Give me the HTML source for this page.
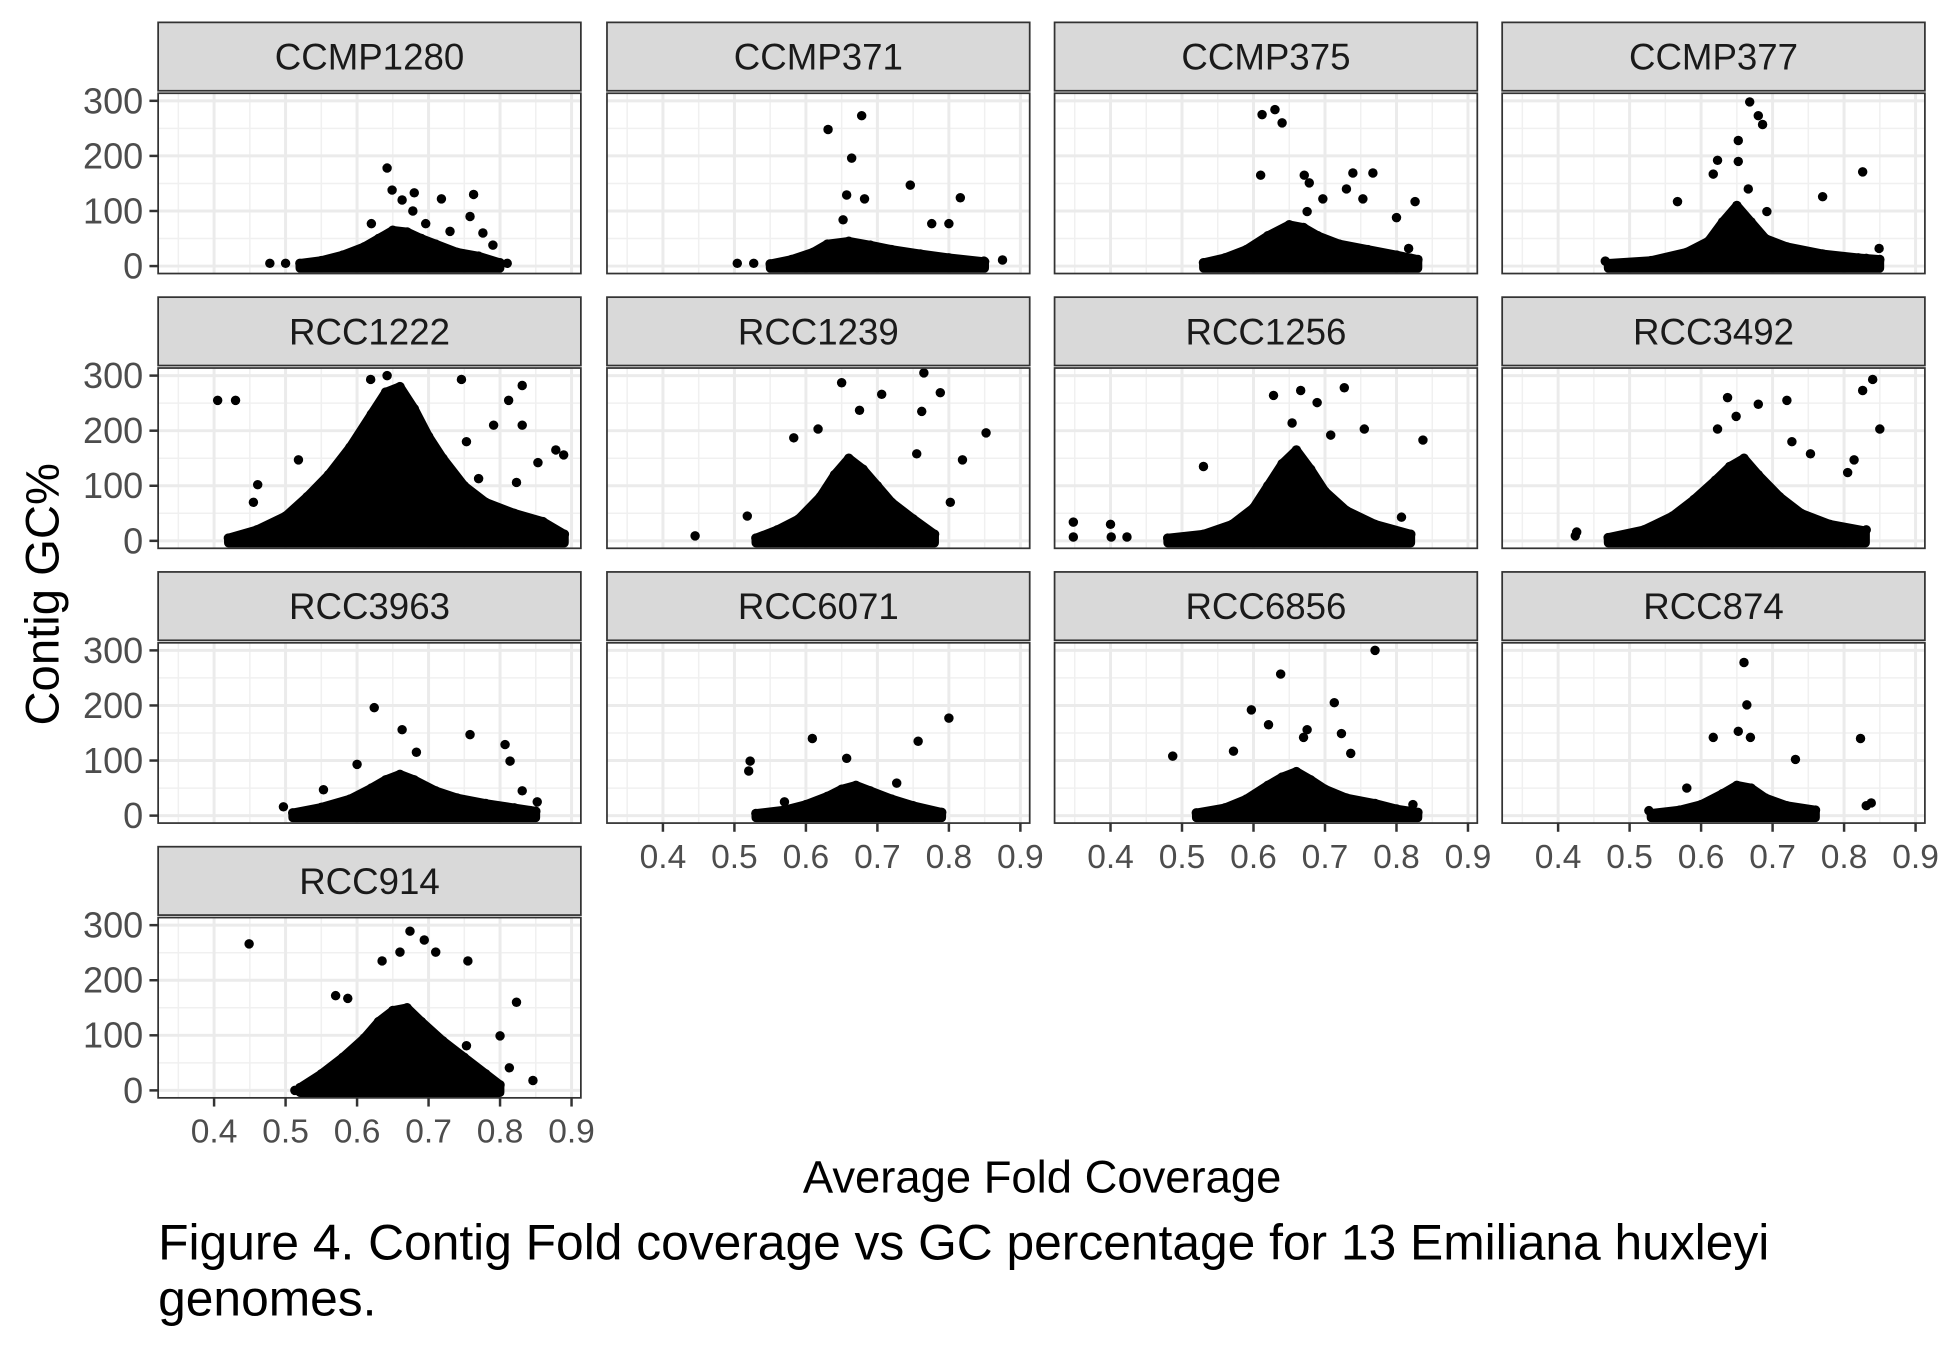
<!DOCTYPE html>
<html><head><meta charset="utf-8"><style>
html,body{margin:0;padding:0;background:#fff;}
svg{display:block;font-family:"Liberation Sans",Arial,sans-serif;}
</style></head><body>
<svg id="chart" width="1950" height="1349" viewBox="0 0 1568 1085" xmlns="http://www.w3.org/2000/svg">
<text x="47" y="478" transform="rotate(-90 47 478)" text-anchor="middle" font-size="38" fill="#000">Contig GC%</text>
<text x="838" y="959" text-anchor="middle" font-size="36.5" fill="#000">Average Fold Coverage</text>
<text x="127" y="1013" font-size="40" fill="#000">Figure 4. Contig Fold coverage vs GC percentage for 13 Emiliana huxleyi</text>
<text x="127" y="1058" font-size="40" fill="#000">genomes.</text>
</svg>
<script>
const panelNames = ["CCMP1280","CCMP371","CCMP375","CCMP377","RCC1222","RCC1239","RCC1256","RCC3492","RCC3963","RCC6071","RCC6856","RCC874","RCC914"];
const xTicks = [0.4,0.5,0.6,0.7,0.8,0.9];
const xTickLabels = ["0.4","0.5","0.6","0.7","0.8","0.9"];
const yTicks = [0,100,200,300];
const yTickLabels = ["0","100","200","300"];
const envelopes = [
 [[0.52,5],[0.55,10],[0.58,20],[0.61,35],[0.63,50],[0.65,65],[0.67,62],[0.69,50],[0.71,40],[0.74,25],[0.77,18],[0.80,6]],
 [[0.55,4],[0.58,12],[0.61,25],[0.63,40],[0.66,45],[0.69,38],[0.72,30],[0.76,22],[0.80,15],[0.85,8]],
 [[0.53,6],[0.56,15],[0.59,30],[0.62,55],[0.65,75],[0.67,70],[0.69,55],[0.72,40],[0.76,30],[0.80,20],[0.83,12]],
 [[0.47,5],[0.53,10],[0.58,25],[0.61,45],[0.63,80],[0.65,110],[0.67,80],[0.69,50],[0.72,35],[0.77,22],[0.82,15],[0.85,12]],
 [[0.42,5],[0.46,20],[0.50,45],[0.53,80],[0.56,120],[0.59,170],[0.62,230],[0.64,270],[0.66,280],[0.68,240],[0.70,190],[0.72,150],[0.75,100],[0.78,70],[0.82,50],[0.86,35],[0.89,12]],
 [[0.53,5],[0.56,20],[0.59,40],[0.62,80],[0.64,120],[0.66,150],[0.68,130],[0.70,100],[0.72,70],[0.75,40],[0.78,12]],
 [[0.48,5],[0.53,12],[0.57,30],[0.60,60],[0.62,100],[0.64,140],[0.66,165],[0.68,130],[0.70,90],[0.73,55],[0.77,30],[0.82,12]],
 [[0.47,6],[0.52,20],[0.56,45],[0.59,75],[0.62,110],[0.64,135],[0.66,150],[0.68,120],[0.71,80],[0.74,50],[0.78,30],[0.83,18]],
 [[0.51,5],[0.55,15],[0.59,30],[0.62,50],[0.64,65],[0.66,75],[0.68,65],[0.71,45],[0.74,32],[0.78,22],[0.82,14],[0.85,8]],
 [[0.53,4],[0.57,10],[0.60,20],[0.63,35],[0.65,48],[0.67,55],[0.69,45],[0.72,30],[0.75,18],[0.79,6]],
 [[0.52,5],[0.56,14],[0.59,30],[0.62,55],[0.64,70],[0.66,80],[0.68,65],[0.70,48],[0.73,32],[0.77,22],[0.80,12],[0.83,6]],
 [[0.53,4],[0.57,10],[0.60,20],[0.63,40],[0.65,55],[0.67,50],[0.69,32],[0.72,18],[0.76,10]],
 [[0.52,5],[0.55,30],[0.58,60],[0.61,95],[0.63,125],[0.65,145],[0.67,150],[0.69,125],[0.72,90],[0.75,60],[0.78,30],[0.80,10]]
];
const outliers = [
 [[0.478,5],[0.50,5],[0.642,178],[0.663,120],[0.649,138],[0.68,133],[0.718,122],[0.763,130],[0.758,90],[0.696,77],[0.62,77],[0.79,38],[0.81,5],[0.776,60],[0.73,63],[0.678,100]],
 [[0.504,5],[0.527,5],[0.678,273],[0.631,248],[0.664,196],[0.657,129],[0.682,122],[0.746,147],[0.816,124],[0.776,77],[0.80,77],[0.652,84],[0.875,11],[0.849,9]],
 [[0.612,275],[0.63,284],[0.64,260],[0.61,165],[0.671,165],[0.678,151],[0.739,169],[0.767,169],[0.826,117],[0.73,140],[0.697,122],[0.80,88],[0.675,99],[0.753,122],[0.817,32],[0.82,14]],
 [[0.668,298],[0.68,273],[0.686,257],[0.652,228],[0.623,192],[0.652,190],[0.666,140],[0.617,167],[0.77,126],[0.826,171],[0.567,117],[0.77,20],[0.849,32],[0.831,14],[0.466,9],[0.692,99]],
 [[0.405,255],[0.43,255],[0.619,293],[0.642,300],[0.746,293],[0.831,282],[0.812,255],[0.791,210],[0.831,210],[0.878,165],[0.889,156],[0.853,142],[0.461,102],[0.455,70],[0.887,11],[0.518,147],[0.753,180],[0.823,106],[0.77,113]],
 [[0.445,9],[0.765,305],[0.788,269],[0.65,287],[0.706,266],[0.762,235],[0.852,196],[0.819,147],[0.802,70],[0.675,237],[0.755,158],[0.518,45],[0.617,203],[0.583,187]],
 [[0.348,34],[0.348,7],[0.40,30],[0.401,7],[0.423,7],[0.628,264],[0.666,273],[0.727,278],[0.689,251],[0.755,203],[0.837,183],[0.708,192],[0.654,214],[0.53,135],[0.807,43]],
 [[0.424,9],[0.426,16],[0.84,293],[0.826,273],[0.85,203],[0.637,260],[0.68,248],[0.72,255],[0.649,226],[0.623,203],[0.727,180],[0.814,147],[0.805,124],[0.831,20],[0.753,158]],
 [[0.497,16],[0.624,196],[0.663,156],[0.758,147],[0.807,129],[0.814,99],[0.831,45],[0.852,25],[0.842,9],[0.683,115],[0.60,93],[0.553,47]],
 [[0.522,99],[0.52,81],[0.609,140],[0.80,177],[0.757,135],[0.657,104],[0.727,59],[0.57,25]],
 [[0.487,108],[0.77,300],[0.638,257],[0.597,192],[0.713,205],[0.621,165],[0.675,156],[0.67,142],[0.723,149],[0.572,117],[0.736,113],[0.823,20]],
 [[0.66,278],[0.664,201],[0.652,153],[0.617,142],[0.669,142],[0.732,102],[0.823,140],[0.838,23],[0.831,18],[0.58,50],[0.527,9]],
 [[0.449,266],[0.674,289],[0.694,273],[0.66,251],[0.71,251],[0.755,235],[0.635,235],[0.57,172],[0.587,167],[0.823,160],[0.80,99],[0.846,18],[0.813,41],[0.513,0],[0.753,81]]
];

const NS = "http://www.w3.org/2000/svg";
const svg = document.getElementById('chart');
const colLeft = [127,488,848,1208];
const rowTop = [75,296,517,738];
const PW = 340, PH = 145;
function mk(tag, attrs, parent){ const e=document.createElementNS(NS,tag); for(const k in attrs) e.setAttribute(k,attrs[k]); (parent||svg).appendChild(e); return e; }
function xScale(left, v){ return left + 45 + (v-0.4)*575; }
function yScale(top, v){ return top + 139 - v*0.443; }

panelNames.forEach((name, i) => {
  const c = i % 4, r = Math.floor(i / 4);
  const L = colLeft[c], T = rowTop[r];
  const g = mk('g', {});
  
  
  const clipId = 'clip' + i;
  const cp = mk('clipPath', {id: clipId}, g);
  mk('rect', {x: L, y: T, width: PW, height: PH}, cp);
  const bg = mk('rect', {x: L, y: T, width: PW, height: PH, fill: '#fff'}, g);
  
  
  for (let v = 0.35; v <= 0.9001; v += 0.1) mk('line', {x1: xScale(L,v), x2: xScale(L,v), y1: T, y2: T+PH, stroke: '#f0f0f0', 'stroke-width': 1.2}, g);
  [50,150,250].forEach(v => mk('line', {x1: L, x2: L+PW, y1: yScale(T,v), y2: yScale(T,v), stroke: '#f0f0f0', 'stroke-width': 1.2}, g));
  xTicks.forEach(v => mk('line', {x1: xScale(L,v), x2: xScale(L,v), y1: T, y2: T+PH, stroke: '#ebebeb', 'stroke-width': 2.4}, g));
  yTicks.forEach(v => mk('line', {x1: L, x2: L+PW, y1: yScale(T,v), y2: yScale(T,v), stroke: '#ebebeb', 'stroke-width': 2.4}, g));
  const dg = mk('g', {'clip-path': 'url(#' + clipId + ')'}, g);
  const env = envelopes[i];
  let pts = [[xScale(L, env[0][0]), yScale(T, -4)]];
  env.forEach(p => pts.push([xScale(L,p[0]), yScale(T,p[1])]));
  pts.push([xScale(L, env[env.length-1][0]), yScale(T, -4)]);
  const poly = mk('polygon', {points: pts.map(p => p.join(',')).join(' '), fill: '#000', stroke: '#000', 'stroke-width': 7, 'stroke-linejoin': 'round'}, dg);
  
  
  env.forEach(p => {
    const d = mk('circle', {cx: xScale(L,p[0]), cy: yScale(T,p[1]), r: 3.8, fill: '#000'}, dg);
    
    
  });
  outliers[i].forEach(p => {
    const d = mk('circle', {cx: xScale(L,p[0]), cy: yScale(T,p[1]), r: 3.8, fill: '#000'}, dg);
    
    
  });
  const border = mk('rect', {x: L, y: T, width: PW, height: PH, fill: 'none', stroke: '#333', 'stroke-width': 1.4}, g);
  
  
  const strip = mk('rect', {x: L, y: T-57, width: PW, height: 55, fill: '#d9d9d9', stroke: '#333', 'stroke-width': 1.4}, g);
  
  
  const st = mk('text', {x: L+PW/2, y: T-19, 'text-anchor': 'middle', 'font-size': 29.5, fill: '#1a1a1a'}, g);
  st.textContent = name;
  
  
  if (c === 0) {
    yTicks.forEach((v, k) => {
      mk('line', {x1: L-7, x2: L, y1: yScale(T,v), y2: yScale(T,v), stroke: '#333', 'stroke-width': 2}, g);
      const t = mk('text', {x: L-12, y: yScale(T,v)+10, 'text-anchor': 'end', 'font-size': 29, fill: '#4d4d4d'}, g);
      t.textContent = yTickLabels[k];
      
      
    });
  }
  const bottom = (c === 0 && r === 3) || (c > 0 && r === 2);
  if (bottom) {
    xTicks.forEach((v, k) => {
      mk('line', {x1: xScale(L,v), x2: xScale(L,v), y1: T+PH, y2: T+PH+7, stroke: '#333', 'stroke-width': 2}, g);
      const t = mk('text', {x: xScale(L,v), y: T+PH+36, 'text-anchor': 'middle', 'font-size': 27, fill: '#4d4d4d'}, g);
      t.textContent = xTickLabels[k];
      
      
    });
  }
});
</script>
</body></html>
